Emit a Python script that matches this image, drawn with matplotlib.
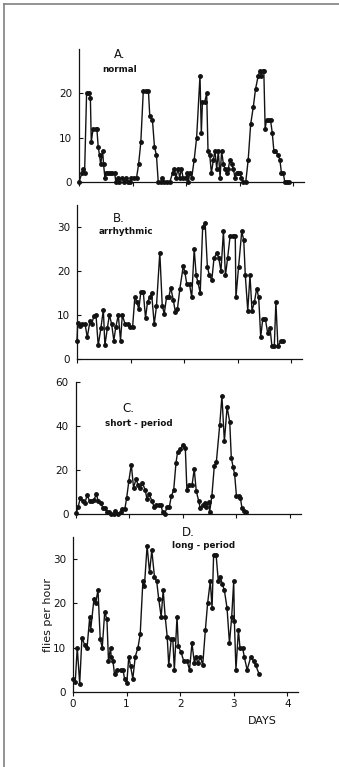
import matplotlib
matplotlib.use("Agg")
import matplotlib.pyplot as plt
from matplotlib.lines import Line2D
import numpy as np

# ---------------- data (hours since start, flies per hour) ----------------
a_hours = [0,1.3,1.8,2.5,3.4,4.6,5.1,5.5,6.3,7.5,8,8.6,9.2,9.7,10.6,11,11.6,12,13,14,15,16,16.5,17.3,18,19.2,20.3,21,21.8,23,23.5,24.7,25.8,26.7,27.7,28.8,30,31.1,31.7,32.9,33.8,34.7,35.5,36.7,37.4,38.1,39.6,40.7,41.9,42.6,43.4,44.4,45.1,45.9,46.6,47.8,48.6,49,49.6,50.5,51.6,52.7,54.2,54.8,55.3,56.3,57.2,57.8,58.6,59.3,60.2,60.9,61.7,62.4,63.2,63.9,64.7,65.4,66.2,66.9,67.6,68.4,69.1,69.9,70.6,71.4,72.1,72.7,73.6,74.7,75.8,76.9,78.1,79.1,80.3,81,81.7,82.3,82.8,83.4,84,85,85.8,86.6,87.3,88,89.3,90,90.7,91.5,92.2,93.3,94]
a_flies = [0,2,3,2,20,20,19,9,12,12,12,8,6,4,7,4,1,2,2,2,2,2,0,1,0,1,0,1,0,0,1,1,1,4,9,20.5,20.5,20.5,15,14,8,6,0,0,1,0,0,0,2,3,1,3,1,3,1,1,2,0,2,1,5,10,24,11,18,18,20,7,6,2,5,7,3,7,1,7,4,3,2,3,5,4,3,1,2,2,2,1,0,0,5,13,17,21,24,25,24,25,25,12,14,14,14,11,7,7,6,5,2,2,0,0,0]

b_hours = [0,0.3,1.3,2.1,3.6,4.6,5.8,6.6,7.6,8.5,9.5,10.7,11.8,12.5,13.6,14.5,15.5,16.5,17.4,18.5,19.5,20.3,21.5,22.7,23.7,24.9,25.9,26.8,27.7,28.6,29.7,30.7,31.6,32.6,33.4,34.6,35.6,37.1,38.2,39.1,40.1,41.1,42,43.1,44.1,45,46.1,47.6,48.3,49.2,50.4,51.4,52.5,53.4,54.1,55.2,56.3,57.4,58.4,59.3,60.4,61.4,62.6,63.5,64.5,65.6,66.5,67.5,68.6,69.8,70.9,71.2,72.4,73.8,74.7,75.4,76.5,77.5,78.4,79.5,80.5,81.4,82.3,83.2,84.4,85.4,86.5,87.3,88.4,89.1,90,91.4,92.1]
b_flies = [4.2,8.1,7.5,8,8,4.9,8.6,8,9.8,10.1,3.1,7,11.2,3.1,7,10,8,4.2,7.3,10,4.2,10,8,8,7.2,7.2,14,13,11.3,15.2,15.2,9.3,13,14,15,7.9,12,24.2,12,10.3,14,14,16.2,13.5,10.6,11.4,16,21.1,19.8,17,17,14,25,19,17.6,15,30,31,21,19,18,23,24,23,20,29,19,23,28,28,28,14,21,29,27,19,11,19,11,13,16,14,5,9,9,6,7,3,3,13,3,4,4]

c_hours = [0.3,1.2,2.2,3.3,4.2,5.2,6.3,7.2,8.2,9.3,10.2,11.2,12.3,13.2,14.2,15.2,16.1,17.2,17.9,19.1,20.2,20.9,22.1,22.9,23.9,25,26,27.2,28,29,30,31.2,32,33,34.2,35.3,36.2,37.2,38.3,39,39.9,41,42,42.9,44,45,45.7,46.9,48.1,49.2,49.9,51,52.2,53.2,54.1,55.2,55.9,57,57.9,58.6,59.7,60.1,61.1,62.2,63.1,64.6,65.6,66.7,67.9,69.1,69.8,70.6,71.3,72.1,73.1,73.9,74.6,75.6,76.5]
c_flies = [0.3,3.3,7.4,5.9,4.8,8.6,5.9,5.9,6.3,8.9,6,5,2.9,2.9,1,1,0,0,1.4,0,1,2.3,2.3,7.1,15,22.5,12,16,13,12,14,11,7,9,6,3,4,4,4,1,0,3,3,8,11,23,28,29.5,31.3,30,11,13,13,20.4,10.4,5.9,2.6,4,5,3.3,5.4,1,8.3,22,23.6,40.3,53.6,33,48.6,41.8,25.5,21.4,18,8.2,8,7.1,2.6,1.3,0.7]

d_hours = [0,1.0,1.9,3.0,4.0,5.2,6.3,7.5,7.9,9.4,10.1,11.2,12.2,13.1,14.2,15.2,15.9,16.8,17.1,17.9,18.6,19.8,21.3,22.4,23.1,24.1,25,25.8,26.8,27.9,29.1,30.1,31.3,32,33.2,34.3,35.3,36.5,37.5,38.4,39.5,40.4,41.3,42.2,42.9,44,44.7,45.4,46.6,47.2,48.4,49.6,51.1,52.2,53.3,54.4,55.1,55.9,57.1,58.1,59.3,60.3,61.5,62.3,63,64.1,65.1,66,66.8,67.8,69,70.1,71.1,72,72.3,73,74.1,74.8,76,76.7,78,79.7,80.9,81.9,83.4]
d_flies = [3,2.2,10,1.9,12.2,10.7,10,17,14,21,20,23,12,10,18,16.4,7,10,8,7,4,5,5,5,3,2,8,5.8,3,8,10,13,25,24,33,27,32,26,25,21,17,23,17,12.5,6,12,12,5,17,10.3,9,7,7,5,11,6.5,8,6.5,8,6,14,20,25,19,31,31,25,26,24.5,23,19,11,17,25,16,5,14,10,10,8,5,8,7,6,4]

panel_letters = ["A.", "B.", "C.", "D."]
panel_names = ["normal", "arrhythmic", "short - period", "long - period"]
y_ticks = [[0, 10, 20], [0, 10, 20, 30], [0, 20, 40, 60], [0, 10, 20, 30]]
y_limits = [30, 35, 60, 35]
x_ticks = [0, 1, 2, 3, 4]
x_label = "DAYS"
y_label = "flies per hour"

series = [(a_hours, a_flies), (b_hours, b_flies), (c_hours, c_flies), (d_hours, d_flies)]

# ---------------- layout ----------------
W, H = 339, 767
fig = plt.figure(figsize=(W / 100, H / 100), dpi=100)
plt.rcParams['font.family'] = ['DejaVu Sans']

# axes rectangles in pixels: left, bottom(y of zero line), top
rects_px = [(79, 182, 49), (77, 359, 205), (75.5, 514, 382), (73, 692, 537)]
width_px = 225
# title positions (pixels): letter (x,y), name (x,y)
title_px = [((120, 54), (120, 70)), ((119, 218), (126, 232)),
            ((128, 409), (139, 423)), ((188, 533), (204, 546))]

ink = "#121212"
for i, ((hrs, vals), (lx, by, ty)) in enumerate(zip(series, rects_px)):
    ax = fig.add_axes([lx / W, (H - by) / H, width_px / W, (by - ty) / H])
    days = np.array(hrs) / 24.0
    ax.plot(days, vals, color=ink, lw=1.0, marker='o', ms=2.5,
            mfc=ink, mec=ink, clip_on=False)
    ax.set_xlim(0, 4.2)
    ax.set_ylim(0, y_limits[i])
    for s in ("top", "right"):
        ax.spines[s].set_visible(False)
    for s in ("left", "bottom"):
        ax.spines[s].set_color(ink)
        ax.spines[s].set_linewidth(0.9)
    ax.set_yticks(y_ticks[i])
    ax.set_xticks(x_ticks)
    ax.tick_params(axis='y', direction='in', length=3, width=0.8, pad=5,
                   labelsize=7.5, colors=ink)
    ax.tick_params(axis='x', direction='out', length=3, width=0.8, pad=2,
                   labelsize=7.5, colors=ink)
    if i < 3:
        ax.set_xticklabels([])
    else:
        ax.set_ylabel(y_label, fontsize=8, color=ink, labelpad=0)
    ax.patch.set_alpha(0)
    (tx, tyy), (nx, ny) = title_px[i]
    fig.text(tx / W, 1 - tyy / H, panel_letters[i], ha='center', va='center',
             fontsize=8.5, color=ink)
    fig.text(nx / W, 1 - ny / H, panel_names[i], ha='center', va='center',
             fontsize=6.3, fontweight='bold', color=ink)

fig.text(262 / W, 1 - 721 / H, x_label, ha='center', va='center', fontsize=8, color=ink)

# gray frame (left and top edges)
fig.add_artist(Line2D([4 / W, 4 / W], [0, 1 - 4 / H], color="#808080", lw=1.2,
                      transform=fig.transFigure))
fig.add_artist(Line2D([4 / W, 1], [1 - 4 / H, 1 - 4 / H], color="#808080", lw=1.2,
                      transform=fig.transFigure))

fig.savefig("out.png", dpi=100)
